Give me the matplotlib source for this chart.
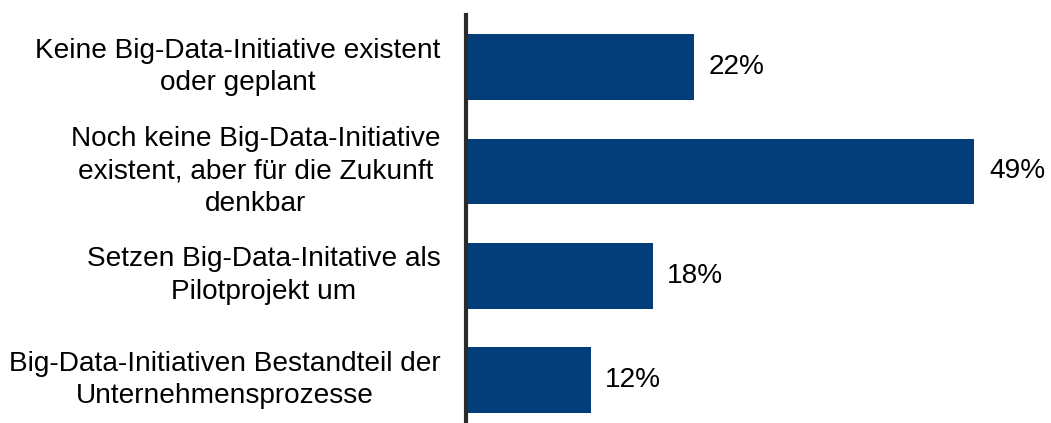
import matplotlib
matplotlib.use("Agg")
import matplotlib.pyplot as plt

plt.rcParams['font.family'] = ['Liberation Sans', 'DejaVu Sans']

categories = [
    "Keine Big-Data-Initiative existent\noder geplant",
    "Noch keine Big-Data-Initiative\nexistent, aber für die Zukunft\ndenkbar",
    "Setzen Big-Data-Initative als\nPilotprojekt um",
    "Big-Data-Initiativen Bestandteil der\nUnternehmensprozesse",
]
values = [22, 49, 18, 12]
value_labels = ["22%", "49%", "18%", "12%"]

W, H = 1051, 423
fig = plt.figure(figsize=(W / 100, H / 100), dpi=100)
# axes placed in pixel coordinates
left, right, top, bottom = 466, 1044, 15, 423
ax = fig.add_axes([left / W, 1 - bottom / H, (right - left) / W, (bottom - top) / H])

ypos = list(range(len(values)))
ax.barh(ypos, values, height=0.63, color='#033d7a', zorder=2)

for y, v, lab in zip(ypos, values, value_labels):
    ax.text(v + 1.4, y, lab, va='center', ha='left', fontsize=20.2, color='black')

for y, cat in zip(ypos, categories):
    ax.text(-2.45, y, cat, va='center', ha='right', multialignment='center',
            fontsize=20.2, color='black', linespacing=1.33)

ax.set_xlim(0, 55.7)
ax.set_ylim(3.412, -0.5)
ax.set_xticks([])
ax.set_yticks([])
for s in ['top', 'right', 'bottom']:
    ax.spines[s].set_visible(False)
ax.spines['left'].set_color('#2b2b2b')
ax.spines['left'].set_linewidth(3)

fig.savefig("out.png", dpi=100)
